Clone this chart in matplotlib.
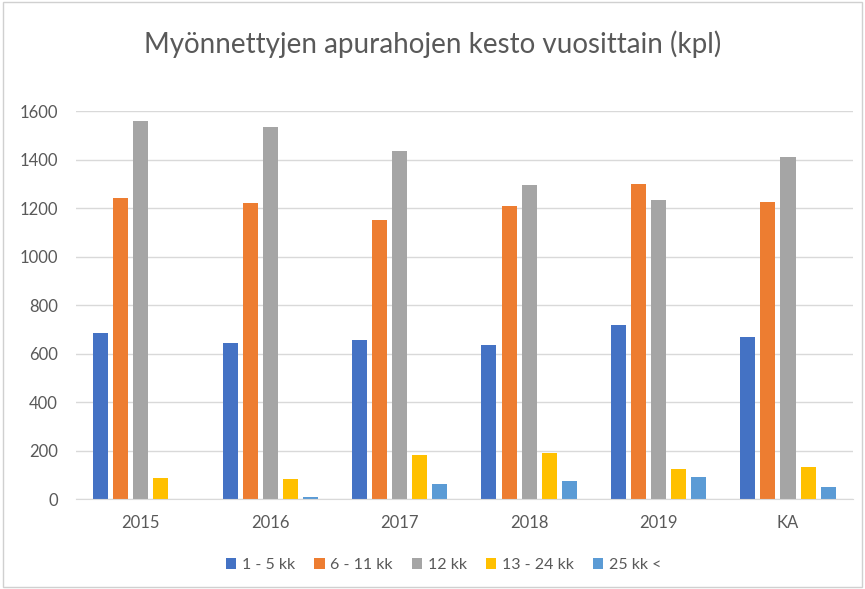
import matplotlib.pyplot as plt
import numpy as np
from matplotlib.patches import Rectangle

plt.rcParams["font.family"] = ["Lato", "DejaVu Sans"]

categories = ["2015", "2016", "2017", "2018", "2019", "KA"]
series_names = ["1 - 5 kk", "6 - 11 kk", "12 kk", "13 - 24 kk", "25 kk <"]
kk_1_5 = [686, 643, 657, 636, 719, 669]
kk_6_11 = [1242, 1220, 1150, 1209, 1300, 1225]
kk_12 = [1561, 1536, 1437, 1296, 1234, 1413]
kk_13_24 = [87, 82, 181, 190, 126, 132]
kk_25 = [0, 8, 64, 74, 91, 49]
colors = ["#4472C4", "#ED7D31", "#A5A5A5", "#FFC000", "#5B9BD5"]
yticks = [0, 200, 400, 600, 800, 1000, 1200, 1400, 1600]

text_color = "#595959"
grid_color = "#d9d9d9"

fig = plt.figure(figsize=(8.65, 5.89), dpi=100)
fig.patches.append(Rectangle((0.004, 0.004), 0.992, 0.992, transform=fig.transFigure,
                             fill=False, edgecolor="#d0d0d0", linewidth=1))
ax = fig.add_axes([0.0879, 0.1523, 0.8979, 0.6587])

x = np.arange(len(categories))
pitch = 0.155
width = 0.116
all_series = [kk_1_5, kk_6_11, kk_12, kk_13_24, kk_25]
for i, (name, values, color) in enumerate(zip(series_names, all_series, colors)):
    ax.bar(x + (i - 2) * pitch, values, width=width, color=color, label=name, zorder=3)

ax.set_xlim(-0.5, len(categories) - 0.5)
ax.set_ylim(0, 1600)
ax.set_yticks(yticks)
ax.set_xticks(x)
ax.set_xticklabels(categories)
ax.tick_params(axis="both", length=0, labelsize=12, colors=text_color)
ax.tick_params(axis="y", pad=13)
ax.tick_params(axis="x", pad=11)
ax.grid(axis="y", color=grid_color, linewidth=1, zorder=0)
for side in ["top", "right", "left"]:
    ax.spines[side].set_visible(False)
ax.spines["bottom"].set_color(grid_color)
ax.spines["bottom"].set_zorder(4)

fig.text(0.5, 0.925, "Myönnettyjen apurahojen kesto vuosittain (kpl)",
         ha="center", va="center", fontsize=20, color=text_color)

fig.legend(loc="center", bbox_to_anchor=(0.513, 0.041), ncol=5, frameon=False,
           fontsize=11.5, labelcolor=text_color, handlelength=0.65, handleheight=0.65,
           handletextpad=0.35, columnspacing=1.2)

fig.savefig("out.png", dpi=100)
